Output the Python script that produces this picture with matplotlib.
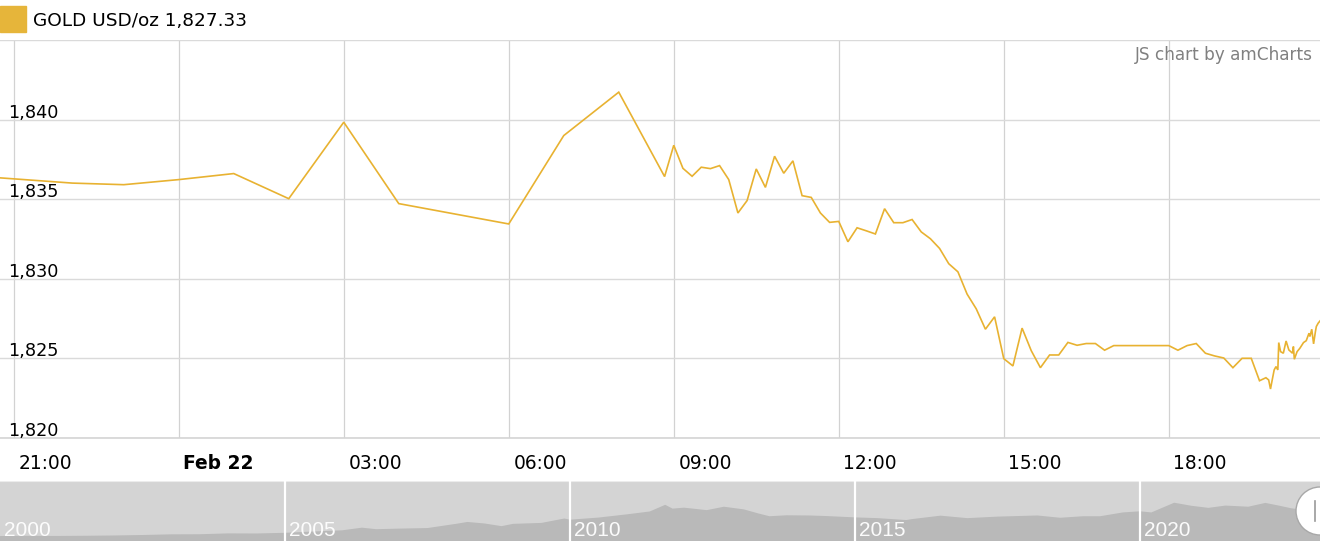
import matplotlib

matplotlib.use("Agg")
import matplotlib.dates as mdates
import matplotlib.pyplot as plt
import numpy as np
import pandas as pd
from matplotlib.patches import Ellipse, Rectangle

# intraday gold quotes, Feb 21-22
times = [
    "02-21 20:45", "02-21 22:04", "02-21 23:00", "02-22 00:00", "02-22 01:00",
    "02-22 02:00", "02-22 03:00", "02-22 04:00", "02-22 06:00", "02-22 07:00",
    "02-22 08:00", "02-22 08:50", "02-22 09:00", "02-22 09:10", "02-22 09:20",
    "02-22 09:30", "02-22 09:40", "02-22 09:50", "02-22 10:00", "02-22 10:10",
    "02-22 10:20", "02-22 10:30", "02-22 10:40", "02-22 10:50", "02-22 11:00",
    "02-22 11:10", "02-22 11:20", "02-22 11:30", "02-22 11:40", "02-22 11:50",
    "02-22 12:00", "02-22 12:10", "02-22 12:20", "02-22 12:30", "02-22 12:40",
    "02-22 12:50", "02-22 13:00", "02-22 13:10", "02-22 13:20", "02-22 13:30",
    "02-22 13:40", "02-22 13:50", "02-22 14:00", "02-22 14:10", "02-22 14:20",
    "02-22 14:30", "02-22 14:40", "02-22 14:50", "02-22 15:00", "02-22 15:10",
    "02-22 15:20", "02-22 15:30", "02-22 15:40", "02-22 15:50", "02-22 16:00",
    "02-22 16:10", "02-22 16:20", "02-22 16:30", "02-22 16:40", "02-22 16:50",
    "02-22 17:00", "02-22 18:00", "02-22 18:10", "02-22 18:20", "02-22 18:30",
    "02-22 18:40", "02-22 18:50", "02-22 19:00", "02-22 19:10", "02-22 19:20",
    "02-22 19:30", "02-22 19:39", "02-22 19:46", "02-22 19:49", "02-22 19:51",
    "02-22 19:53", "02-22 19:55", "02-22 19:57", "02-22 19:59", "02-22 20:00",
    "02-22 20:02", "02-22 20:05", "02-22 20:08", "02-22 20:11", "02-22 20:15",
    "02-22 20:16", "02-22 20:17", "02-22 20:20", "02-22 20:23", "02-22 20:27",
    "02-22 20:30", "02-22 20:33", "02-22 20:34", "02-22 20:36", "02-22 20:38",
    "02-22 20:40", "02-22 20:41", "02-22 20:43", "02-22 20:45",
]
prices = [
    1836.33, 1836.00, 1835.90, 1836.22, 1836.60,
    1835.02, 1839.83, 1834.71, 1833.43, 1838.99,
    1841.72, 1836.41, 1838.38, 1836.93, 1836.43,
    1837.00, 1836.91, 1837.10, 1836.22, 1834.12,
    1834.90, 1836.89, 1835.73, 1837.69, 1836.62,
    1837.40, 1835.21, 1835.10, 1834.12, 1833.53,
    1833.59, 1832.31, 1833.19, 1833.00, 1832.80,
    1834.39, 1833.51, 1833.51, 1833.71, 1832.93,
    1832.50, 1831.89, 1830.93, 1830.42, 1829.02,
    1828.09, 1826.81, 1827.59, 1824.96, 1824.50,
    1826.88, 1825.46, 1824.39, 1825.19, 1825.19,
    1825.98, 1825.80, 1825.91, 1825.91, 1825.49,
    1825.78, 1825.78, 1825.49, 1825.78, 1825.91,
    1825.30, 1825.13, 1825.00, 1824.39, 1824.98,
    1824.98, 1823.57, 1823.76, 1823.62, 1823.05,
    1823.66, 1824.25, 1824.46, 1824.25, 1825.97,
    1825.40, 1825.30, 1826.07, 1825.51, 1825.30,
    1825.72, 1824.92, 1825.40, 1825.61, 1825.97,
    1826.09, 1826.56, 1826.35, 1826.81, 1825.89,
    1826.66, 1826.98, 1827.19, 1827.33,
]
y_ticks = [1820, 1825, 1830, 1835, 1840, 1845]
y_labels = ["1,820", "1,825", "1,830", "1,835", "1,840"]

# long-term history shown in the navigator strip
nav_years = [
    2000.0, 2000.5, 2001.0, 2001.5, 2002.0, 2002.5, 2003.0, 2003.5, 2004.0, 2004.5,
    2005.0, 2005.5, 2006.0, 2006.35, 2006.6, 2007.0, 2007.5, 2008.0, 2008.2, 2008.5,
    2008.8, 2009.0, 2009.5, 2009.9, 2010.0, 2010.5, 2011.0, 2011.4, 2011.67, 2011.8,
    2012.0, 2012.4, 2012.7, 2013.05, 2013.3, 2013.5, 2013.8, 2014.2, 2014.5, 2015.0,
    2015.4, 2015.9, 2016.0, 2016.5, 2016.97, 2017.5, 2018.2, 2018.6, 2019.0, 2019.3,
    2019.7, 2020.0, 2020.2, 2020.6, 2020.9, 2021.2, 2021.5, 2021.9, 2022.2, 2022.45,
    2022.65, 2022.8, 2023.0, 2023.16,
]
nav_values = [
    260, 270, 265, 275, 290, 315, 350, 355, 400, 395,
    430, 500, 560, 700, 620, 650, 680, 900, 1000, 920,
    780, 900, 950, 1180, 1120, 1230, 1400, 1550, 1900, 1700,
    1750, 1620, 1800, 1660, 1450, 1300, 1350, 1340, 1310, 1240,
    1200, 1100, 1150, 1330, 1200, 1280, 1340, 1220, 1300, 1300,
    1500, 1560, 1500, 2010, 1850, 1740, 1860, 1800, 2000, 1850,
    1720, 1660, 1900, 1830,
]
nav_marks = [2000, 2005, 2010, 2015, 2020]

gold = "#e8b231"
t = pd.to_datetime(["2023-" + s for s in times], format="%Y-%m-%d %H:%M")

fig = plt.figure(figsize=(13.2, 5.52), dpi=100)
ax = fig.add_axes([0.0, 1 - 437.5 / 552, 1.0, (437.5 - 40) / 552])
ax.plot(t, prices, color=gold, lw=1.2, solid_joinstyle="miter")
ax.set_xlim(t[0], t[-1])
ax.set_ylim(1820, 1845)
for s in ax.spines.values():
    s.set_visible(False)
ax.set_yticks(y_ticks)
ax.xaxis.set_major_locator(mdates.HourLocator(byhour=range(0, 24, 3)))
ax.tick_params(length=0, labelleft=False, labelbottom=False)
ax.grid(axis="y", color="#dadada", lw=1.0)
ax.grid(axis="x", color="#d2d2d2", lw=0.9)
ax.axhline(1820, color="#dadada", lw=1.4, clip_on=False, zorder=0.5)

for v, lab in zip(y_ticks, y_labels):
    ax.annotate(lab, xy=(0, v), xycoords=("axes fraction", "data"),
                xytext=(5.8, 1.3), textcoords="offset points",
                ha="left", va="baseline", fontsize=12.7, color="#000000")

for tk in mdates.num2date(ax.get_xticks()):
    if tk.hour == 0:
        lab, weight = tk.strftime("%b %d").replace(" 0", " "), "bold"
    else:
        lab, weight = tk.strftime("%H:%M"), "normal"
    ax.annotate(lab, xy=(mdates.date2num(tk), 0), xycoords=("data", "axes fraction"),
                xytext=(3.4, -22.5), textcoords="offset points",
                ha="left", va="baseline", fontsize=13.4, fontweight=weight, color="#000000")

# legend and credit
fig.patches.append(Rectangle((0, 1 - 32 / 552), 26 / 1320, 26 / 552,
                             transform=fig.transFigure, color="#e6b53a", zorder=3))
fig.text(33 / 1320, 1 - 21 / 552, "GOLD USD/oz 1,827.33", ha="left", va="center",
         fontsize=13.3, color="#000000")
fig.text(1313 / 1320, 1 - 55 / 552, "JS chart by amCharts", ha="right", va="center",
         fontsize=12.2, color="#808080")

# navigator strip
nav = fig.add_axes([0.0, 1 - 541 / 552, 1.0, 60 / 552])
nav.set_facecolor("#d4d4d4")
nav.fill_between(nav_years, 0, nav_values, color="#b9b9b9", lw=0)
nav.set_xlim(2000, 2000 + 1320 / 57)
nav.set_ylim(0, 3150)
nav.set_xticks([])
nav.set_yticks([])
for s in nav.spines.values():
    s.set_visible(False)
nav.axhline(3150, color="#ececec", lw=1.5)
for yr in nav_marks:
    if yr > 2000:
        nav.axvline(yr, color="#ffffff", lw=1.6)
    nav.annotate(str(yr), xy=(yr, 0), xycoords=("data", "axes fraction"),
                 xytext=(2.6, 3.6), textcoords="offset points", ha="left", va="baseline",
                 fontsize=15, family="Liberation Sans", color="#ffffff", alpha=0.95)

nav.add_patch(Ellipse((1.0, 0.5), 48 / 1320, 48 / 60, transform=nav.transAxes,
                      facecolor="#ffffff", edgecolor="#a8a8a8", lw=1.0, clip_on=False, zorder=5))
nav.plot([0.9965, 0.9965], [0.33, 0.67], transform=nav.transAxes, color="#9a9a9a",
         lw=1.2, clip_on=False, zorder=6)

fig.savefig("out.png", dpi=100)
plt.close(fig)
